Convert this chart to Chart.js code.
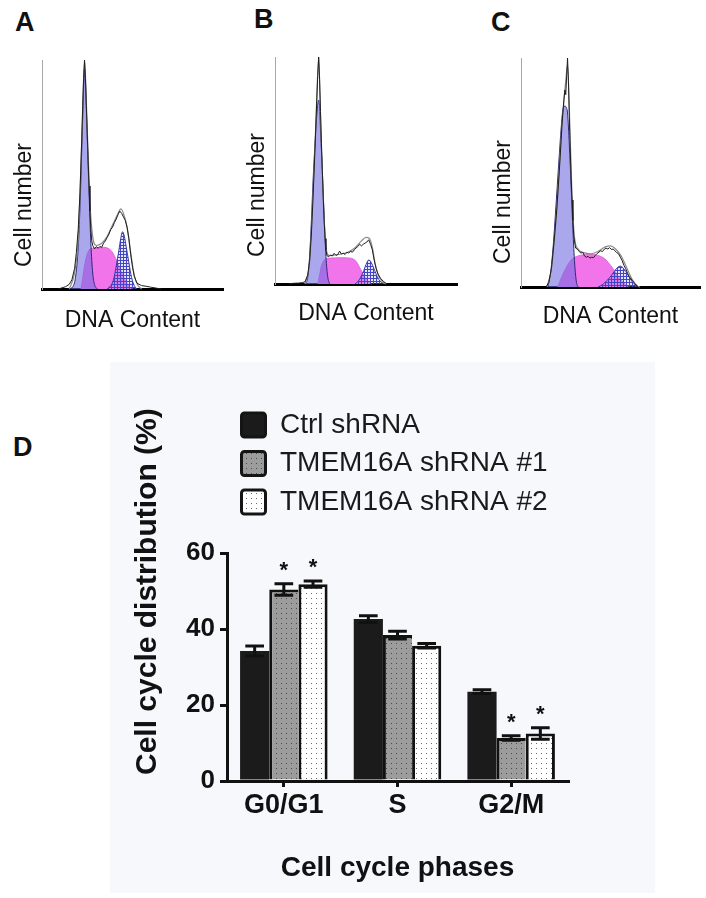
<!DOCTYPE html>
<html>
<head>
<meta charset="utf-8">
<script src="https://cdn.jsdelivr.net/npm/chart.js@4.4.0/dist/chart.umd.min.js"></script>
<style>
  body { margin: 0; width: 706px; height: 898px; position: relative; overflow: hidden; background: #fff;
         font-family: "Liberation Sans", Arial, sans-serif; }
  canvas { position: absolute; }
  .letter { position: absolute; font-weight: bold; font-size: 27px; line-height: 1; color: #111; }
  #barD { background: #f7f8fb; }
</style>
</head>
<body>
<div class="letter" style="left:15px;top:9px">A</div>
<div class="letter" style="left:254px;top:6px">B</div>
<div class="letter" style="left:491px;top:9px">C</div>
<div class="letter" style="left:13px;top:434px">D</div>

<canvas id="histA"></canvas>
<canvas id="histB"></canvas>
<canvas id="histC"></canvas>
<canvas id="barD" width="545" height="531" style="left:110px;top:362px"></canvas>

<script>
// Flow histograms: x = DNA channel (0-200), y = relative cell count (0-100)
const aRaw = [[18,0],[22,0.5],[26,1],[30,2],[33,4],[36,9],[38,16],[40,26],[42,42],[44,66],[45,80],[46,92],[47,100],[48,92],[49,80],[50,68],[51,56],[52,45],[53,34],[54,26],[55,21],[56,19],[58,17.5],[60,18.5],[62,17.8],[64,18.6],[66,18.2],[68,20],[70,21],[72,22.5],[74,24],[76,26],[78,27],[80,29],[82,30.5],[84,32.5],[86,34],[88,33],[90,31.5],[92,30],[94,27],[96,22],[98,15],[100,9.5],[102,5.5],[105,2.5],[110,1.5],[115,1.2],[120,0.8],[126,0.4],[132,0]];
const aFit = [[30,0],[36,7],[40,22],[44,66],[47,100],[50,70],[53,38],[56,23],[60,19],[66,20],[72,23],[78,28],[84,33],[87,35],[90,33],[94,27],[98,16],[102,6],[106,1.5],[110,0]];
const aG1 = [[30,0],[34,1],[37,5],[40,18],[42,36],[44,62],[46,88],[47,96],[48,90],[50,66],[52,42],[54,20],[56,7],[58,2],[61,0]];
const aS = [[43,0],[45,5],[47,10],[49,14],[52,17],[56,17.8],[62,18],[68,18.2],[73,17.8],[77,16.5],[80,14.5],[83,12],[86,9],[90,5.5],[94,2.5],[99,0]];
const aG2 = [[72,0],[76,1.5],[79,4],[82,10],[85,17],[87,22],[89,25],[91,23],[93,18.5],[96,11.5],[99,5],[102,1.5],[105,0]];

const bRaw = [[15,0],[20,0.3],[26,0.4],[30,0.6],[33,1],[36,4],[38,10],[40,22],[42,40],[44,60],[46,82],[47,92],[48,100],[49,90],[50,76],[51,62],[52,50],[53,38],[54,28],[55,20],[56,15],[57,12.5],[59,12],[61,12.8],[63,12.3],[65,13.5],[67,12.6],[69,13],[71,14.5],[73,13.2],[75,13.6],[77,13],[79,14],[81,13.6],[83,14.4],[85,14],[87,15],[89,15.8],[91,16.5],[93,17.5],[95,16.8],[97,17.5],[99,18],[101,18.5],[103,19.5],[105,17.5],[107,15],[109,10.5],[111,7],[113,4.5],[116,2.5],[119,1.2],[123,0]];
const bFit = [[33,0],[38,10],[42,42],[45,72],[48,100],[50,74],[53,38],[56,16],[60,12.5],[70,13],[80,14],[88,16],[95,19],[100,20.5],[104,20],[107,16],[110,9],[114,3.5],[118,1],[122,0]];
const bG1 = [[33,0],[36,3],[38,12],[40,28],[42,47],[44,62],[46,75],[48,81],[49,78],[50,68],[52,50],[54,30],[56,12],[58,3],[60,0]];
const bS = [[47,0],[49,4],[51,8],[54,10.5],[58,11.3],[65,11.5],[72,11.6],[80,11.5],[86,11],[90,9.5],[94,6.5],[98,3.5],[102,1.5],[106,0]];
const bG2 = [[88,0],[92,1.5],[96,4.5],[99,7.5],[101,9.5],[103,10.6],[105,10],[108,7.5],[111,4.5],[114,2],[117,0.7],[120,0]];

const cRaw = [[28,0],[31,2],[34,8],[37,20],[40,34],[43,52],[46,72],[48,82],[49,86],[50,84],[51,92],[52,100],[53,90],[54,74],[55,60],[56,48],[57,38],[58,29],[59,22],[61,17],[63,16.5],[65,15.5],[67,14.8],[69,15.2],[71,13.5],[73,13],[75,13.4],[77,12.6],[79,13],[81,12.8],[83,13.8],[85,14.6],[87,15.2],[89,15.8],[91,15.5],[93,16.5],[95,17],[97,16.6],[99,17.2],[101,16.4],[103,16.6],[105,15.8],[107,15],[109,14.5],[111,13],[113,11.5],[115,9.5],[117,8],[119,6],[121,4.5],[124,3],[127,1.5],[131,0]];
const cFit = [[29,0],[34,8],[40,34],[46,72],[50,90],[52,97],[54,78],[57,40],[60,21],[64,16.5],[70,15],[78,14.5],[86,15.5],[94,17.5],[100,18],[106,16.5],[112,13.5],[118,8.5],[124,3.5],[130,0.5],[133,0]];
const cG1 = [[30,0],[33,6],[36,18],[39,35],[42,53],[45,70],[47,78],[49,79],[51,78],[52,76],[54,62],[56,44],[58,25],[60,10],[62,2],[64,0]];
const cS = [[41,0],[44,3],[48,6.5],[52,9.5],[56,11.8],[60,13],[66,13.8],[72,14.2],[78,14.2],[84,14],[90,13.2],[95,11.8],[100,9.5],[105,6.8],[110,4],[115,1.8],[120,0]];
const cG2 = [[86,0],[91,1],[96,2.8],[101,5],[105,7.2],[108,8.6],[111,9.1],[114,8.4],[117,6.8],[120,5],[123,3],[126,1.5],[129,0.5],[131,0]];

// Bar chart (panel D)
const phases = ['G0/G1', 'S', 'G2/M'];
const groupNames = ['Ctrl shRNA', 'TMEM16A shRNA #1', 'TMEM16A shRNA #2'];
const ctrlMean = [34.2, 42.6, 23.5];
const ctrlErr = [1.3, 0.9, 0.5];
const sh1Mean = [50.4, 38.4, 11.3];
const sh1Err = [1.5, 1.0, 0.6];
const sh2Mean = [51.8, 35.6, 12.5];
const sh2Err = [0.8, 0.6, 1.5];
const ctrlSig = [false, false, false];
const sh1Sig = [true, false, true];
const sh2Sig = [true, false, true];

Chart.defaults.font.family = '"Liberation Sans", Arial, sans-serif';
Chart.defaults.color = '#111';

function dotPattern(bg, dot, step) {
  const c = document.createElement('canvas');
  c.width = step; c.height = step;
  const g = c.getContext('2d');
  g.fillStyle = bg; g.fillRect(0, 0, step, step);
  g.fillStyle = dot; g.fillRect(1, 1, 1, 1);
  return g.createPattern(c, 'repeat');
}

function hatchPattern(color, step) {
  const c = document.createElement('canvas');
  c.width = step; c.height = step;
  const g = c.getContext('2d');
  g.fillStyle = 'rgba(150,150,235,0.25)';
  g.fillRect(0, 0, step, step);
  g.strokeStyle = color; g.lineWidth = 1;
  g.beginPath();
  g.moveTo(0.5, 0); g.lineTo(0.5, step);
  g.moveTo(0, 0.5); g.lineTo(step, 0.5);
  g.stroke();
  return g.createPattern(c, 'repeat');
}

const toPts = arr => arr.map(p => ({x: p[0], y: p[1]}));

// rotated axis title anchored at the bottom-left of the plot
const sideTitle = {
  id: 'sideTitle',
  afterDraw(chart, args, o) {
    if (!o.text) return;
    const {ctx, chartArea} = chart;
    ctx.save();
    ctx.translate(chartArea.left - o.dx, chartArea.bottom - o.dy);
    ctx.rotate(-Math.PI / 2);
    ctx.font = o.font;
    ctx.fillStyle = '#111';
    ctx.textAlign = 'left';
    ctx.textBaseline = 'middle';
    ctx.fillText(o.text, 0, 0);
    ctx.restore();
  }
};

// canvas box and plot area of each histogram, in page pixels
const histLayout = {
  histA: {box: [0, 50, 235, 340], area: [42, 60, 223, 289], titlePad: 6, dy: 22},
  histB: {box: [235, 47, 465, 335], area: [275, 57, 457, 284], titlePad: 8, dy: 27},
  histC: {box: [470, 48, 706, 340], area: [521, 58, 700, 287], titlePad: 9.5, dy: 23}
};

function histogram(id, raw, fit, g1, s, g2) {
  const L = histLayout[id];
  const [bl, bt, br, bb] = L.box;
  const [al, at, ar, ab] = L.area;
  const canvas = document.getElementById(id);
  canvas.width = br - bl; canvas.height = bb - bt;
  canvas.style.left = bl + 'px'; canvas.style.top = bt + 'px';
  const fitLine = {pointRadius: 0, cubicInterpolationMode: 'monotone', fill: 'origin', clip: 4};
  return new Chart(canvas, {
    type: 'line',
    data: {
      datasets: [
        {label: 'Raw', data: toPts(raw), borderColor: '#1e1e1e', borderWidth: 1, pointRadius: 0, fill: false, tension: 0, order: 0, clip: 4},
        {label: 'Model', data: toPts(fit), borderColor: '#8c8c8c', borderWidth: 1.2, pointRadius: 0, fill: false, cubicInterpolationMode: 'monotone', order: 1, clip: 4},
        Object.assign({label: 'G2/M', data: toPts(g2), borderColor: '#3a3aa0', borderWidth: 1, backgroundColor: hatchPattern('#4444c6', 3), order: 2}, fitLine),
        Object.assign({label: 'G0/G1', data: toPts(g1), borderColor: '#2b2b72', borderWidth: 1, backgroundColor: 'rgba(115,108,225,0.6)', order: 3}, fitLine),
        Object.assign({label: 'S', data: toPts(s), borderColor: '#d85ad0', borderWidth: 0.8, backgroundColor: '#f274ea', order: 4}, fitLine)
      ]
    },
    options: {
      responsive: false,
      animation: false,
      layout: {padding: {left: 0, top: at - bt, right: br - ar, bottom: 0}},
      plugins: {
        legend: {display: false},
        tooltip: {enabled: false},
        sideTitle: {text: 'Cell number', font: '23px "Liberation Sans", Arial, sans-serif', dx: 17.5, dy: L.dy}
      },
      scales: {
        x: {
          type: 'linear', min: 0, max: 200,
          grid: {display: false},
          ticks: {display: false},
          border: {color: '#000', width: 3},
          title: {display: true, text: 'DNA Content', font: {size: 23}, color: '#111', padding: {top: 0, bottom: L.titlePad}},
          afterFit: sc => { sc.height = bb - ab; }
        },
        y: {
          min: 0, max: 100,
          grid: {display: false},
          ticks: {display: false},
          border: {color: '#a8a8a8', width: 1},
          afterFit: sc => { sc.width = al - bl; }
        }
      }
    },
    plugins: [sideTitle]
  });
}

histogram('histA', aRaw, aFit, aG1, aS, aG2);
histogram('histB', bRaw, bFit, bG1, bS, bG2);
histogram('histC', cRaw, cFit, cG1, cS, cG2);

// mean +/- error whiskers and significance stars
const errorBars = {
  id: 'errorBars',
  afterDatasetsDraw(chart, args, o) {
    const {ctx} = chart;
    const y = chart.scales.y;
    chart.data.datasets.forEach((ds, di) => {
      chart.getDatasetMeta(di).data.forEach((bar, i) => {
        const v = ds.data[i], e = ds.errors[i];
        const top = y.getPixelForValue(v + e);
        const bot = y.getPixelForValue(v - e);
        const half = bar.width * 0.32;
        ctx.save();
        ctx.strokeStyle = '#111';
        ctx.lineWidth = 3;
        ctx.beginPath();
        ctx.moveTo(bar.x, top); ctx.lineTo(bar.x, bot);
        ctx.moveTo(bar.x - half, top); ctx.lineTo(bar.x + half, top);
        ctx.moveTo(bar.x - half, bot); ctx.lineTo(bar.x + half, bot);
        ctx.stroke();
        if (ds.sig[i]) {
          ctx.fillStyle = '#111';
          ctx.font = o.starFont;
          ctx.textAlign = 'center';
          ctx.textBaseline = 'alphabetic';
          ctx.fillText('*', bar.x, top - 7);
        }
        ctx.restore();
      });
    });
  }
};

// stacked legend above the plot
const boxLegend = {
  id: 'boxLegend',
  afterDraw(chart, args, o) {
    const {ctx} = chart;
    chart.data.datasets.forEach((ds, i) => {
      const cy = o.y + i * o.gap;
      ctx.save();
      ctx.beginPath();
      if (ctx.roundRect) ctx.roundRect(o.x, cy - o.size / 2, o.size, o.size, 3);
      else ctx.rect(o.x, cy - o.size / 2, o.size, o.size);
      ctx.fillStyle = ds.backgroundColor;
      ctx.fill();
      ctx.lineWidth = 3;
      ctx.strokeStyle = '#141414';
      ctx.stroke();
      ctx.fillStyle = '#1a1a1a';
      ctx.font = o.font;
      ctx.textAlign = 'left';
      ctx.textBaseline = 'middle';
      ctx.fillText(ds.label, o.textX, cy);
      ctx.restore();
    });
  }
};

new Chart(document.getElementById('barD'), {
  type: 'bar',
  data: {
    labels: phases,
    datasets: [
      {label: groupNames[0], data: ctrlMean, errors: ctrlErr, sig: ctrlSig,
       backgroundColor: '#1b1b1b', borderWidth: 0},
      {label: groupNames[1], data: sh1Mean, errors: sh1Err, sig: sh1Sig,
       backgroundColor: dotPattern('#9c9c9c', '#4a4a4a', 5), borderColor: '#111',
       borderWidth: {top: 3, left: 3, right: 0, bottom: 0}, borderSkipped: false},
      {label: groupNames[2], data: sh2Mean, errors: sh2Err, sig: sh2Sig,
       backgroundColor: dotPattern('#ffffff', '#6a6a6a', 5), borderColor: '#111',
       borderWidth: {top: 3, left: 3, right: 3, bottom: 0}, borderSkipped: false}
    ]
  },
  options: {
    responsive: false,
    animation: false,
    layout: {padding: {left: 0, top: 191, right: 87, bottom: 0}},
    datasets: {bar: {categoryPercentage: 0.77, barPercentage: 1.0}},
    plugins: {
      legend: {display: false},
      tooltip: {enabled: false},
      errorBars: {starFont: 'bold 22px "Liberation Sans", Arial, sans-serif'},
      boxLegend: {x: 131.5, y: 63, gap: 38.5, size: 24, textX: 170, font: '28px "Liberation Sans", Arial, sans-serif'},
      sideTitle: {text: 'Cell cycle distribution (%)', font: 'bold 30px "Liberation Sans", Arial, sans-serif', dx: 79, dy: 6}
    },
    scales: {
      x: {
        grid: {display: true, drawOnChartArea: false, drawTicks: true, tickLength: 6, color: '#111', lineWidth: 3, offset: false},
        border: {color: '#111', width: 3},
        ticks: {font: {size: 27, weight: 'bold'}, color: '#111', padding: 2},
        title: {display: true, text: 'Cell cycle phases', font: {size: 28, weight: 'bold'}, color: '#111', padding: {top: 0, bottom: 8}},
        afterFit: sc => { sc.height = 112; }
      },
      y: {
        min: 0, max: 60,
        ticks: {stepSize: 20, font: {size: 26, weight: 'bold'}, color: '#111', padding: 5},
        grid: {display: true, drawOnChartArea: false, tickLength: 7, color: '#111', lineWidth: 3},
        border: {color: '#111', width: 3},
        afterFit: sc => { sc.width = 117; }
      }
    }
  },
  plugins: [errorBars, boxLegend, sideTitle]
});
</script>
</body>
</html>
